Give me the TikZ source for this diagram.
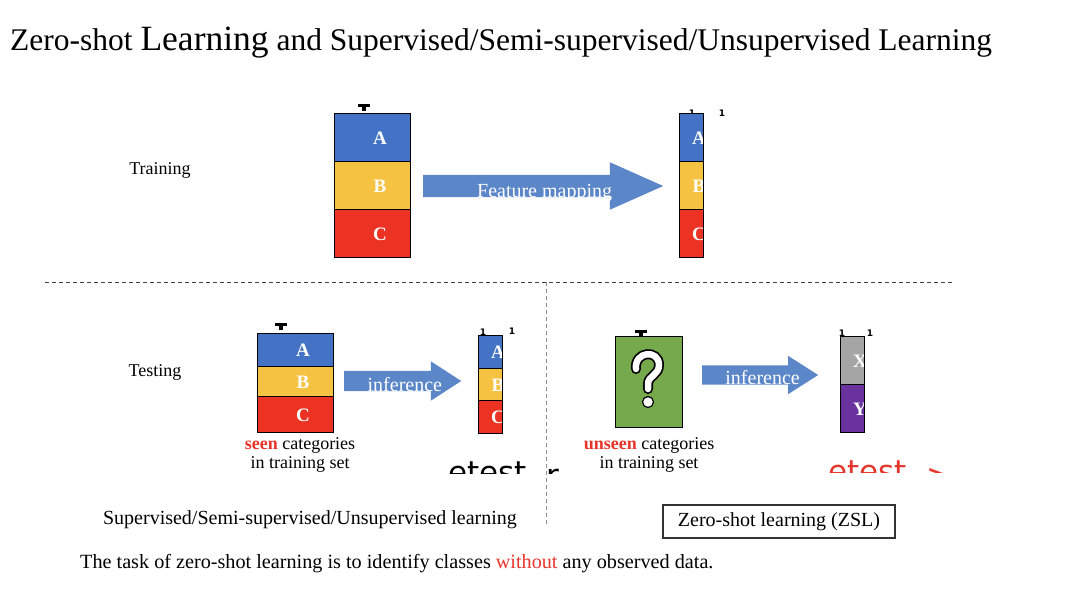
\documentclass[tikz,border=0pt]{standalone}
\usepackage{fontspec}
\setmainfont{Liberation Serif}
\newfontfamily\glitchfont{DejaVu Sans}
\usetikzlibrary{positioning, shapes.arrows}
\definecolor{cellblue}{HTML}{4472C4}
\definecolor{cellyellow}{HTML}{F5C242}
\definecolor{cellred}{HTML}{EC3323}
\definecolor{cellgreen}{HTML}{76A84C}
\definecolor{cellgray}{HTML}{A5A5A5}
\definecolor{cellpurple}{HTML}{6A329E}
\definecolor{arrowblue}{HTML}{5B87C9}
\definecolor{hlred}{HTML}{E8352B}
\newcommand{\tmark}[2]{\fill (#1-6,#2) rectangle (#1+6,#2+2.5); \fill (#1-2,#2+2.5) rectangle (#1+2,#2+7);}
\tikzset{cell/.style={draw=black, line width=0.9pt, inner sep=0pt, outer sep=0pt, anchor=north west},
letter/.style={path picture={\node[anchor=center, text=white, font=\fontsize{19}{19}\selectfont\bfseries] at ([xshift=8pt, yshift=-1pt]path picture bounding box.center) {#1};}},
wide/.style={minimum width=76pt},
narrow/.style={minimum width=24pt},
blockarrow/.style={single arrow, fill=arrowblue, draw=none, inner sep=0pt, text=white, anchor=tail, font=\fontsize{20}{20}\selectfont, text depth=0pt},
lbl/.style={font=\fontsize{18}{19.5}\selectfont, align=center},
txt/.style={font=\fontsize{20}{22}\selectfont},
onemark/.style={font=\glitchfont\bfseries\fontsize{9}{9}\selectfont, inner sep=0pt, anchor=base},
ghost/.style={font=\glitchfont\fontsize{31}{31}\selectfont, inner sep=0pt, anchor=base west},
sep/.style={dash pattern=on 4pt off 3pt, line width=0.9pt}}

\begin{document}
\begin{tikzpicture}[x=1pt, y=-1pt]
  \useasboundingbox[fill=white] (0,0) rectangle (1068,606);
  \node[anchor=base west, inner sep=0pt, font=\fontsize{31.5}{33}\selectfont] (title) at (10,50) {Zero-shot {\fontsize{35.5}{36}\selectfont Learning} and Supervised/Semi-supervised/Unsupervised Learning};

  % training
  \node[lbl] (trainlbl) at (160,170) {Training};
  \tmark{364}{104}
  \node[cell, wide, minimum height=48pt, fill=cellblue, letter=A] (trainA) at (334,113) {};
  \node[cell, wide, minimum height=48pt, fill=cellyellow, letter=B, below=0pt of trainA] (trainB) {};
  \node[cell, wide, minimum height=48pt, fill=cellred, letter=C, below=0pt of trainB] (trainC) {};
  \node[blockarrow, minimum height=240pt, text height=22pt, single arrow head extend=12.5pt, single arrow tip angle=48] (fmap) at (423,186) {\hspace*{28pt}Feature mapping};
  \node[onemark] (one1) at (692,116) {1};
  \node[onemark] (one2) at (722,116) {1};
  \node[cell, narrow, minimum height=48pt, fill=cellblue, letter=A] (featA) at (679,113) {};
  \node[cell, narrow, minimum height=48pt, fill=cellyellow, letter=B, below=0pt of featA] (featB) {};
  \node[cell, narrow, minimum height=48pt, fill=cellred, letter=C, below=0pt of featB] (featC) {};

  % separators
  \coordinate (hl) at (45,282);
  \coordinate (hr) at (953,282);
  \coordinate (vt) at (546,282);
  \coordinate (vb) at (546,527);
  \draw[sep, black!75] (hl) -- (hr);
  \draw[sep, black!45] (vt) -- (vb);

  % testing, seen
  \node[lbl] (testlbl) at (155,372) {Testing};
  \tmark{281}{323}
  \node[cell, wide, minimum height=33pt, fill=cellblue, letter=A] (seenA) at (257,333) {};
  \node[cell, wide, minimum height=30pt, fill=cellyellow, letter=B, below=0pt of seenA] (seenB) {};
  \node[cell, wide, minimum height=36pt, fill=cellred, letter=C, below=0pt of seenB] (seenC) {};
  \node[lbl, anchor=north, inner sep=0pt] (seenlbl) at (300,437) {\textcolor{hlred}{\textbf{seen}} categories\\in training set};
  \node[blockarrow, minimum height=117pt, text height=20pt, single arrow head extend=9.5pt, single arrow tip angle=66] (infer1) at (344,381) {\hspace*{20pt}inference};
  \node[onemark] (one3) at (483,335) {1};
  \node[onemark] (one4) at (512,334) {1};
  \node[cell, narrow, minimum height=33pt, fill=cellblue, letter=A] (predA) at (478,335) {};
  \node[cell, narrow, minimum height=32pt, fill=cellyellow, letter=B, below=0pt of predA] (predB) {};
  \node[cell, narrow, minimum height=33pt, fill=cellred, letter=C, below=0pt of predB] (predC) {};
  \begin{scope}
    \clip (440,440) rectangle (600,473);
    \node[ghost] (ghostA) at (448,483) {etest};
    \node[ghost] (ghostB) at (546,486) {r};
  \end{scope}

  % testing, unseen
  \tmark{641}{330}
  \node[cell, minimum width=67pt, minimum height=91pt, fill=cellgreen] (unseen) at (615,336) {};
  \draw[line width=10pt, line cap=round] (636,369) .. controls (634,351) and (659,349) .. (659,365) .. controls (659,375) and (648,376) .. (648,384) -- (648,389);
  \draw[line width=6.5pt, line cap=round, white] (636,369) .. controls (634,351) and (659,349) .. (659,365) .. controls (659,375) and (648,376) .. (648,384) -- (648,389);
  \filldraw[fill=white, draw=black, line width=1.2pt] (648,402) circle (5.5pt);
  \node[lbl, anchor=north, inner sep=0pt] (unseenlbl) at (649,437) {\textcolor{hlred}{\textbf{unseen}} categories\\in training set};
  \node[blockarrow, minimum height=116pt, text height=19pt, single arrow head extend=9.5pt, single arrow tip angle=65] (infer2) at (702,375) {\hspace*{20pt}inference};
  \node[onemark] (one5) at (842,336) {1};
  \node[onemark] (one6) at (870,336) {1};
  \node[cell, narrow, minimum height=48pt, fill=cellgray, letter=X] (predX) at (840,336) {};
  \node[cell, narrow, minimum height=48pt, fill=cellpurple, letter=Y, below=0pt of predX] (predY) {};
  \begin{scope}
    \clip (815,440) rectangle (960,472);
    \node[ghost, text=hlred] (ghostC) at (828,482) {etest};
    \node[ghost, text=hlred] (ghostD) at (926,486) {>};
  \end{scope}

  % bottom
  \node[txt] (suplbl) at (310,520) {Supervised/Semi-supervised/Unsupervised learning};
  \node[txt, draw=black!80, line width=1.2pt, minimum width=232pt, minimum height=33pt] (zsl) at (779,521.5) {Zero-shot learning (ZSL)};
  \node[txt, anchor=base west, inner sep=0pt, font=\fontsize{20.2}{22}\selectfont] (task) at (80,568) {The task of zero-shot learning is to identify classes \textcolor{hlred}{without} any observed data.};
\end{tikzpicture}
\end{document}
